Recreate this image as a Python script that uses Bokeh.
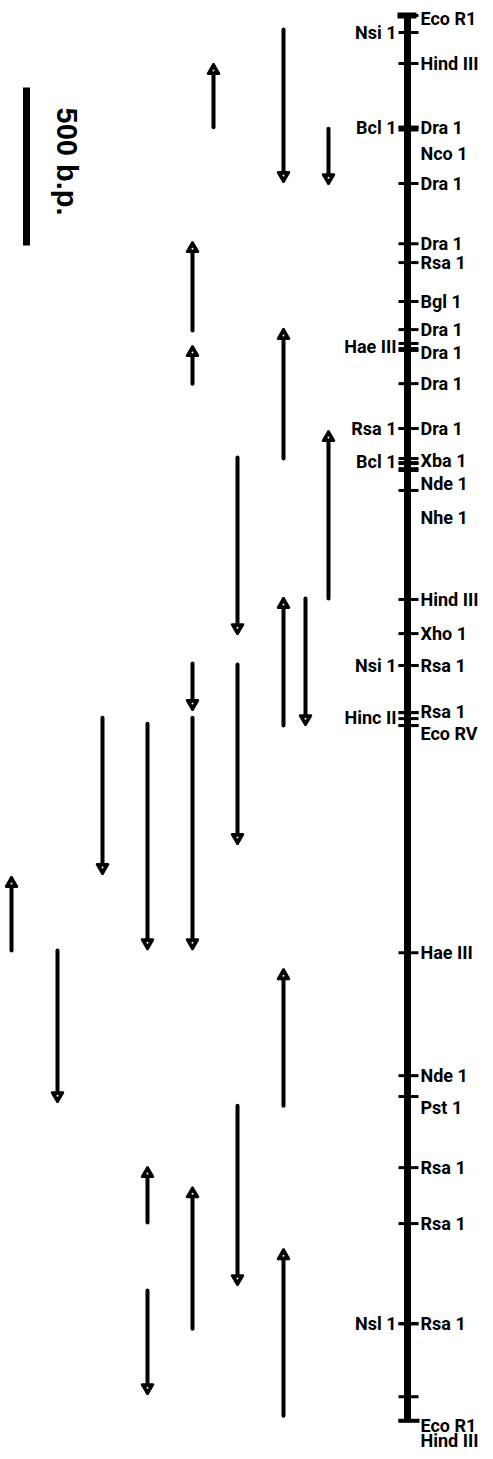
import numpy as np
from bokeh.plotting import figure
from bokeh.models import Range1d, ColumnDataSource
from bokeh.core.properties import value
from bokeh.embed import file_html
from bokeh.resources import INLINE

# ---------------- data (positions in base pairs from the left Eco R1 site) -------------
MAP_LENGTH = 4447
SCALE_BAR_BP = 500
SCALE_BAR_START = 228

# sites labelled on the right of the map: name, cut position, label position
right_names = ["Eco R1", "Hind III", "Dra 1", "Nco 1", "Dra 1", "Dra 1", "Rsa 1",
               "Bgl 1", "Dra 1", "Dra 1", "Dra 1", "Dra 1", "Xba 1", "Nde 1",
               "Nhe 1", "Hind III", "Xho 1", "Rsa 1", "Rsa 1", "Eco RV", "Hae III",
               "Nde 1", "Pst 1", "Rsa 1", "Rsa 1", "Rsa 1", "", "Eco R1", "Hind III"]
right_cut = [0, 152, 354, 362, 532, 722, 782, 905, 994, 1054, 1165, 1307, 1415, 1503,
             1440, 1848, 1956, 2057, 2206, 2247, 2966, 3355, 3421, 3646, 3823, 4140,
             4371, 4447, 4447]
right_label = [9, 152, 354, 437, 532, 722, 782, 905, 994, 1067, 1165, 1307, 1408, 1481,
               1589, 1848, 1956, 2057, 2203, 2272, 2966, 3355, 3456, 3646, 3823, 4140,
               4371, 4463, 4510]

# sites labelled on the left of the map: name, cut positions, label position
left_names = ["Nsi 1", "Bcl 1", "Hae III", "Rsa 1", "Bcl 1", "Nsi 1", "Hinc II", "Nsl 1"]
left_cuts = [[54], [354], [1038, 1060], [1307], [1402, 1418, 1434], [2057],
             [2206, 2225, 2247], [4140]]
left_label = [54, 354, 1047, 1307, 1412, 2057, 2220, 4140]

# sequencing runs: lane, start (tail) and end (arrow head) in bp
read_lane = [283, 283, 283, 283, 283,
             328, 328,
             305,
             237, 237, 237,
             213,
             192, 192, 192, 192, 192,
             147, 147, 147,
             102, 11, 57]
read_tail = [44, 1402, 2247, 3450, 4431,
             358, 1845,
             1845,
             1399, 2054, 3450,
             354,
             997, 1165, 2051, 2222, 4156,
             2241, 3820, 4035,
             2222, 2959, 2959]
read_head = [522, 997, 1848, 3023, 3909,
             529, 1320,
             2241,
             1953, 2617, 4013,
             158,
             722, 1051, 2193, 2950, 3713,
             2950, 3649, 4358,
             2712, 2731, 3434]

# ---------------- layout ------------------------------------------------------------
BP_PER_PX = SCALE_BAR_BP / 158.0
MAP_X = 407
W, H = 485, 1451
y_top = (0 - 15) * BP_PER_PX
y_bot = (H - 15) * BP_PER_PX

p = figure(width=W, height=H, output_backend="svg", toolbar_location=None,
           x_range=Range1d(0, W), y_range=Range1d(y_bot, y_top),
           x_axis_type=None, y_axis_type=None, min_border=0,
           background_fill_color="white", border_fill_color="white")
p.outline_line_color = None
p.grid.visible = False

FONT = value("Roboto")

# map backbone
p.segment(x0=[MAP_X], y0=[0], x1=[MAP_X], y1=[MAP_LENGTH], line_color="black",
          line_width=7, line_cap="butt")
p.segment(x0=[397], y0=[0], x1=[416], y1=[0], line_color="black", line_width=6)

# ticks
tick_y = list(right_cut[:-1]) + [c for cs in left_cuts for c in cs]
p.segment(x0=[398] * len(tick_y), y0=tick_y, x1=[418] * len(tick_y), y1=tick_y,
          line_color="black", line_width=3)
p.segment(x0=[398], y0=[MAP_LENGTH], x1=[419], y1=[MAP_LENGTH], line_color="black",
          line_width=4)

# labels
rs = ColumnDataSource(dict(x=[420] * len(right_names), y=right_label, t=right_names))
p.text(x="x", y="y", text="t", source=rs, text_font=FONT, text_font_size="18px",
       text_font_style="bold", text_align="left", text_baseline="middle",
       text_color="black")
ls = ColumnDataSource(dict(x=[396] * len(left_names), y=left_label, t=left_names))
p.text(x="x", y="y", text="t", source=ls, text_font=FONT, text_font_size="18px",
       text_font_style="bold", text_align="right", text_baseline="middle",
       text_color="black")

# sequencing reads
tail = np.array(read_tail, dtype=float)
head = np.array(read_head, dtype=float)
d = np.sign(head - tail)
off = 5 * BP_PER_PX
p.segment(x0=read_lane, y0=tail, x1=read_lane, y1=head - d * off, line_color="black",
          line_width=4, line_cap="round")
down = d > 0
lane = np.array(read_lane)
p.scatter(x=lane[down], y=(head - d * off)[down], marker="inverted_triangle", size=12,
          fill_color="black", line_color="black", line_width=2)
p.scatter(x=lane[~down], y=(head - d * off)[~down], marker="triangle", size=12,
          fill_color="black", line_color="black", line_width=2)
p.scatter(x=lane, y=head - d * off, marker="circle", size=2, fill_color="white",
          line_color=None)

# scale bar
p.segment(x0=[26], y0=[SCALE_BAR_START], x1=[26], y1=[SCALE_BAR_START + SCALE_BAR_BP],
          line_color="black", line_width=7)
p.text(x=[66], y=[SCALE_BAR_START + 234], text=["500 b.p."],
       text_font=value("Liberation Sans"), text_font_size="29px",
       text_font_style="bold", angle=-np.pi / 2, text_align="center",
       text_baseline="middle", text_color="black")

open("out.html", "w").write(file_html(p, INLINE))
